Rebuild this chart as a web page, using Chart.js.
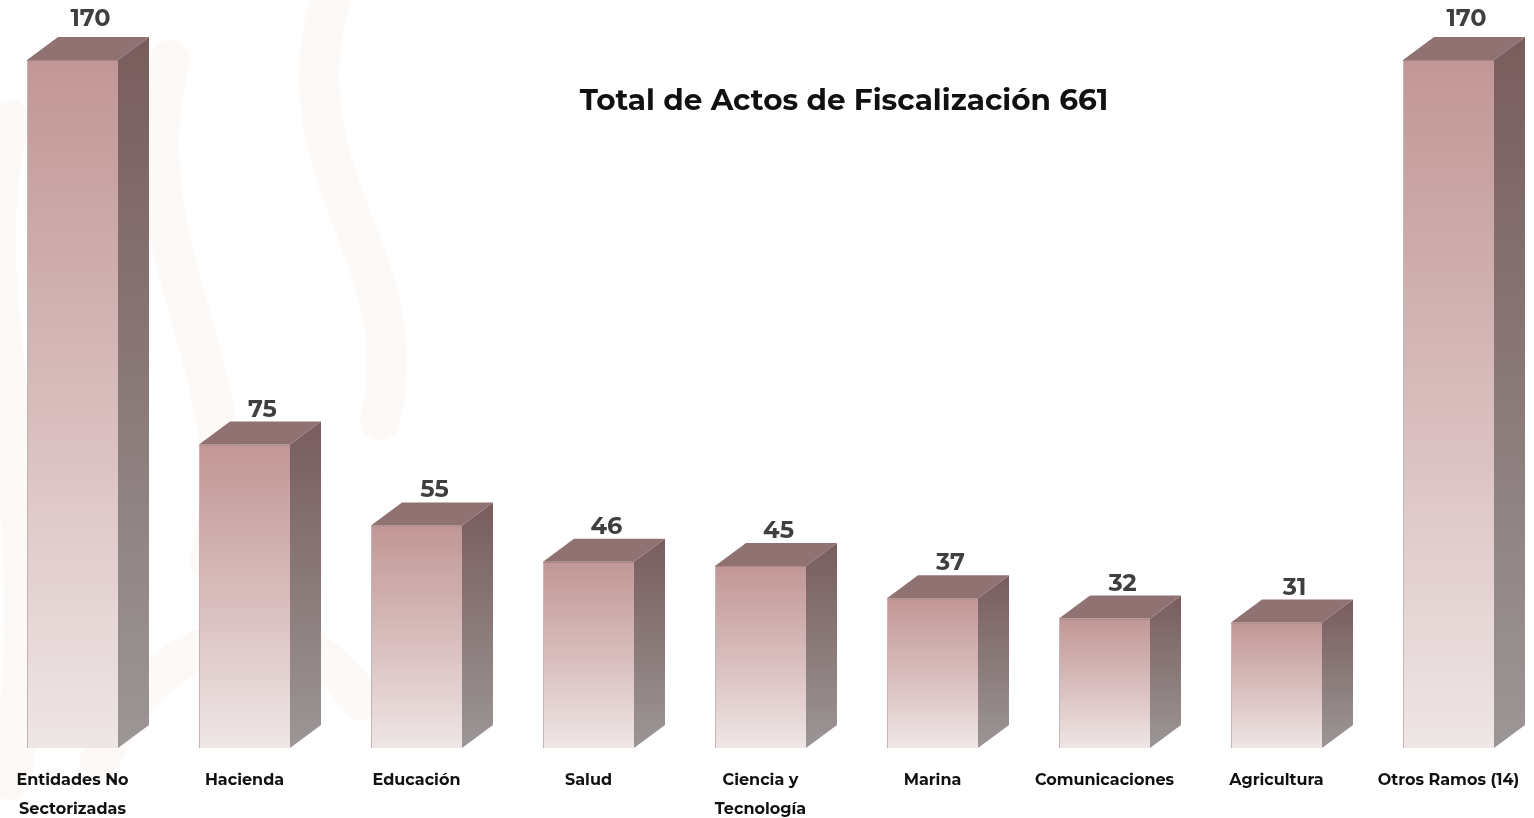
<!DOCTYPE html>
<html>
<head>
<meta charset="utf-8">
<script src="https://cdn.jsdelivr.net/npm/chart.js@4.4.1/dist/chart.umd.min.js"></script>
<style>
html,body{margin:0;padding:0;background:#fff;}
#wrap{position:relative;width:1534px;height:818px;}
</style>
</head>
<body>
<div id="wrap"><canvas id="c" width="1534" height="818"></canvas></div>
<script>
const categories = [
  ["Entidades No", "Sectorizadas"],
  ["Hacienda"],
  ["Educación"],
  ["Salud"],
  ["Ciencia y", "Tecnología"],
  ["Marina"],
  ["Comunicaciones"],
  ["Agricultura"],
  ["Otros Ramos (14)"]
];
const values = [170, 75, 55, 46, 45, 37, 32, 31, 170];
const titleText = "Total de Actos de Fiscalización 661";

const FONT = "Montserrat, 'Open Sans', 'DejaVu Sans', sans-serif";
const DX = 31, DY = 23;

function frontGradient(ctx) {
  const chart = ctx.chart;
  if (!chart.chartArea) return '#d8c4c4';
  const ys = chart.scales.y;
  const top = ys.getPixelForValue(ctx.raw);
  const bot = ys.getPixelForValue(0);
  const g = chart.ctx.createLinearGradient(0, top, 0, bot);
  g.addColorStop(0, '#c29696');
  g.addColorStop(0.5, '#d8bcbc');
  g.addColorStop(1, '#efe6e6');
  return g;
}

const bg = {
  id: 'bg',
  beforeDraw(chart) {
    const c = chart.ctx;
    c.save();
    c.fillStyle = '#ffffff';
    c.fillRect(0, 0, chart.width, chart.height);
    c.strokeStyle = 'rgba(245,239,228,0.35)';
    c.lineCap = 'round';
    c.lineWidth = 40;
    c.beginPath(); c.moveTo(10, 120); c.bezierCurveTo(-40, 300, 60, 500, 10, 780); c.stroke();
    c.beginPath(); c.moveTo(170, 60); c.bezierCurveTo(120, 250, 260, 380, 210, 560); c.stroke();
    c.beginPath(); c.moveTo(330, 0); c.bezierCurveTo(280, 180, 420, 260, 380, 420); c.stroke();
    c.beginPath(); c.moveTo(100, 760); c.bezierCurveTo(160, 620, 300, 600, 360, 700); c.stroke();
    c.restore();
  }
};

const threeD = {
  id: 'threeD',
  afterDatasetsDraw(chart) {
    const c = chart.ctx;
    const meta = chart.getDatasetMeta(0);
    c.save();
    meta.data.forEach((bar, i) => {
      const w = bar.width;
      const xr = bar.x + w / 2;
      const xl = bar.x - w / 2;
      const y = bar.y, b = bar.base;
      // side face
      const sg = c.createLinearGradient(0, y - DY, 0, b);
      sg.addColorStop(0, '#795d5d');
      sg.addColorStop(1, '#9c9696');
      c.fillStyle = sg;
      c.beginPath();
      c.moveTo(xr, y); c.lineTo(xr + DX, y - DY); c.lineTo(xr + DX, b - DY); c.lineTo(xr, b);
      c.closePath(); c.fill();
      // top face
      c.fillStyle = '#917272';
      c.beginPath();
      c.moveTo(xl, y); c.lineTo(xl + DX, y - DY); c.lineTo(xr + DX, y - DY); c.lineTo(xr, y);
      c.closePath(); c.fill();
      c.strokeStyle = 'rgba(150,120,120,0.6)';
      c.lineWidth = 1;
      c.beginPath(); c.moveTo(xl, y + 0.5); c.lineTo(xr, y + 0.5); c.stroke();
      // value label
      c.fillStyle = '#3f3f3f';
      c.font = "bold 24px " + FONT;
      c.textAlign = 'center';
      c.textBaseline = 'middle';
      const ly = y - DY - 12;
      c.fillText(String(values[i]), bar.x + 18, ly < 30 ? 19 : ly);
    });
    // category labels
    const xs = chart.scales.x;
    c.fillStyle = '#111111';
    c.font = "bold 16px " + FONT;
    c.textAlign = 'center';
    c.textBaseline = 'middle';
    categories.forEach((lines, i) => {
      const x = xs.getPixelForValue(i);
      lines.forEach((t, k) => c.fillText(t, x, 780 + k * 29));
    });
    // title
    c.fillStyle = '#111111';
    c.font = "bold 29.5px " + FONT;
    c.fillText(titleText, 844, 101);
    c.restore();
  }
};

new Chart(document.getElementById('c'), {
  type: 'bar',
  data: {
    labels: categories.map(l => l.join(' ')),
    datasets: [{
      data: values,
      backgroundColor: frontGradient,
      borderColor: 'rgba(170,150,150,0.7)',
      borderWidth: {left: 1, right: 0, top: 0, bottom: 0},
      borderSkipped: false,
      categoryPercentage: 1,
      barPercentage: 91 / 172,
      clip: false
    }]
  },
  options: {
    responsive: false,
    animation: false,
    devicePixelRatio: 1,
    layout: { padding: { left: 72.5, right: 85.5, top: 60, bottom: 70 } },
    plugins: { legend: { display: false }, tooltip: { enabled: false }, title: { display: false } },
    scales: {
      x: { display: false, offset: false },
      y: { display: false, min: 0, max: 170 }
    }
  },
  plugins: [bg, threeD]
});
</script>
</body>
</html>
